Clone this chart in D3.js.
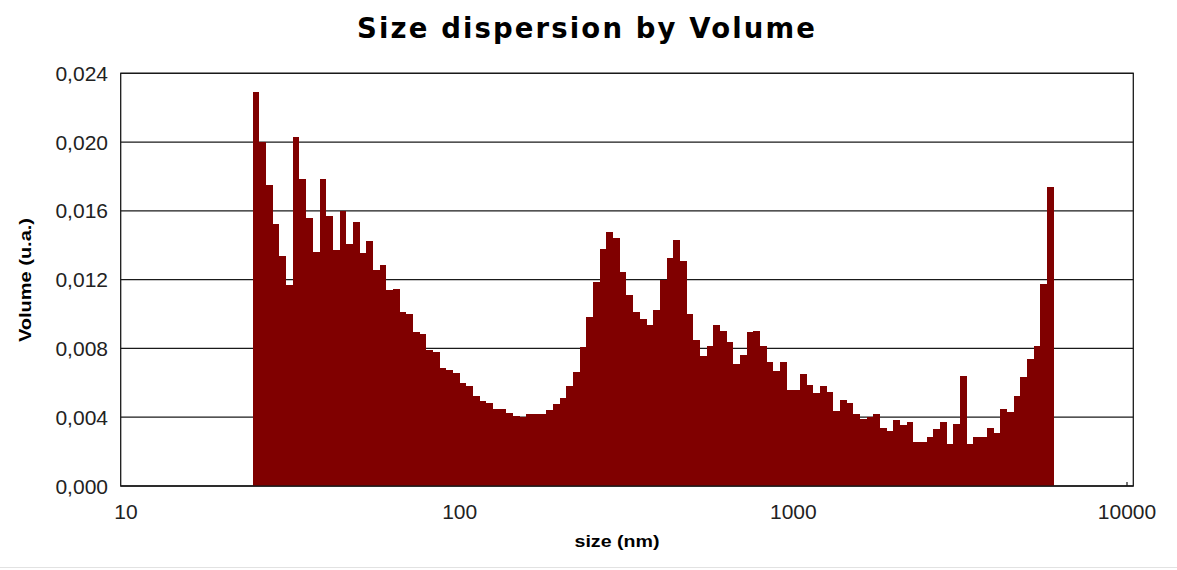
<!DOCTYPE html>
<html>
<head>
<meta charset="utf-8">
<script src="https://cdn.jsdelivr.net/npm/d3@7"></script>
<style>
  html, body { margin: 0; padding: 0; background: #fff; }
  svg { display: block; }
</style>
</head>
<body>
<svg id="chart" width="1177" height="570"></svg>
<script>
const titleText = "Size dispersion by Volume";
const xLabelText = "size (nm)";
const yLabelText = "Volume (u.a.)";
const xTicks = [10, 100, 1000, 10000];
const yTicks = [0, 0.004, 0.008, 0.012, 0.016, 0.020, 0.024];

// size class edges (nm), 121 edges for 120 classes
const sizeEdges = [
  23.99, 25.12, 26.30, 27.54, 28.84, 30.20, 31.62, 33.11, 34.67, 36.31,
  38.02, 39.81, 41.69, 43.65, 45.71, 47.86, 50.12, 52.48, 54.95, 57.54,
  60.26, 63.10, 66.07, 69.18, 72.44, 75.86, 79.43, 83.18, 87.10, 91.20,
  95.50, 100, 104.7, 109.6, 114.8, 120.2, 125.9, 131.8, 138.0, 144.5,
  151.4, 158.5, 166.0, 173.8, 182.0, 190.5, 199.5, 208.9, 218.8, 229.1,
  239.9, 251.2, 263.0, 275.4, 288.4, 302.0, 316.2, 331.1, 346.7, 363.1,
  380.2, 398.1, 416.9, 436.5, 457.1, 478.6, 501.2, 524.8, 549.5, 575.4,
  602.6, 631.0, 660.7, 691.8, 724.4, 758.6, 794.3, 831.8, 871.0, 912.0,
  955.0, 1000, 1047, 1096, 1148, 1202, 1259, 1318, 1380, 1445,
  1514, 1585, 1660, 1738, 1820, 1905, 1995, 2089, 2188, 2291,
  2399, 2512, 2630, 2754, 2884, 3020, 3162, 3311, 3467, 3631,
  3802, 3981, 4169, 4365, 4571, 4786, 5012, 5248, 5495, 5754,
  6026
];

// volume fraction per size class
const volume = [
  0.0229, 0.0200, 0.0175, 0.01525, 0.0134, 0.01167, 0.0203, 0.01786, 0.01558, 0.0136,
  0.01784, 0.01571, 0.01374, 0.01602, 0.01407, 0.01534, 0.01353, 0.01426, 0.01254, 0.01283,
  0.0114, 0.01145, 0.0101, 0.01002, 0.00896, 0.00886, 0.00788, 0.00778, 0.00687, 0.00677,
  0.00658, 0.0060, 0.0058, 0.00522, 0.00493, 0.00484, 0.00449, 0.00445, 0.00426, 0.00406,
  0.0040, 0.00416, 0.00416, 0.00416, 0.00441, 0.00474, 0.00513, 0.0058, 0.00664, 0.00807,
  0.00981, 0.01186, 0.0138, 0.01476, 0.01445, 0.01242, 0.01109, 0.01012, 0.00971, 0.00938,
  0.01026, 0.0120, 0.01325, 0.01432, 0.01306, 0.01002, 0.00851, 0.00755, 0.00817, 0.00935,
  0.00904, 0.00838, 0.0071, 0.00764, 0.00894, 0.00904, 0.00817, 0.0072, 0.00668, 0.0072,
  0.00557, 0.00557, 0.00654, 0.0059, 0.00538, 0.0058, 0.00546, 0.00439, 0.00503, 0.00484,
  0.00416, 0.00387, 0.00402, 0.00416, 0.0034, 0.00319, 0.00383, 0.00352, 0.00372, 0.00255,
  0.00255, 0.00284, 0.00329, 0.00372, 0.00242, 0.00362, 0.00642, 0.00242, 0.00284, 0.00284,
  0.00339, 0.0031, 0.00445, 0.0043, 0.00522, 0.00633, 0.00739, 0.00817, 0.01175, 0.01738
];

const svg = d3.select("#chart");
const frame = { left: 120.7, right: 1133.3, top: 73.3, bottom: 486 };

const x = d3.scaleLog().domain([10, 10000]).range([126, 1127]);
const y = d3.scaleLinear().domain([0, 0.024]).range([frame.bottom, frame.top]);

const tickFont = "'Liberation Sans', Arial, sans-serif";

// gridlines
svg.append("g").selectAll("line").data(yTicks).join("line")
  .attr("x1", frame.left).attr("x2", frame.right)
  .attr("y1", d => y(d)).attr("y2", d => y(d))
  .attr("stroke", "#1a1a1a").attr("stroke-width", 1.3);

// small decade ticks on bottom axis
svg.append("g").selectAll("line").data(xTicks.slice(1)).join("line")
  .attr("x1", d => x(d)).attr("x2", d => x(d))
  .attr("y1", frame.bottom).attr("y2", frame.bottom - 4)
  .attr("stroke", "#1a1a1a").attr("stroke-width", 1.2);

// bars (pixel-snapped so neighbouring classes join without seams)
const bins = volume.map((v, i) => ({ x0: sizeEdges[i], x1: sizeEdges[i + 1], v }));
svg.append("g").attr("shape-rendering", "crispEdges")
  .selectAll("rect").data(bins).join("rect")
  .attr("x", d => Math.round(x(d.x0)))
  .attr("width", d => Math.round(x(d.x1)) - Math.round(x(d.x0)))
  .attr("y", d => Math.round(y(d.v)))
  .attr("height", d => Math.round(y(0)) - Math.round(y(d.v)))
  .attr("fill", "#800000");

// frame
svg.append("rect")
  .attr("x", frame.left).attr("y", frame.top)
  .attr("width", frame.right - frame.left).attr("height", frame.bottom - frame.top)
  .attr("fill", "none").attr("stroke", "#1a1a1a").attr("stroke-width", 1.3);

// y tick labels
const fmt = d3.format(".3f");
svg.append("g").selectAll("text").data(yTicks).join("text")
  .attr("x", 108).attr("y", d => y(d) + 7.5)
  .attr("text-anchor", "end")
  .attr("font-family", tickFont).attr("font-size", 21)
  .attr("fill", "#222")
  .text(d => fmt(d).replace(".", ","));

// x tick labels
svg.append("g").selectAll("text").data(xTicks).join("text")
  .attr("x", d => x(d)).attr("y", 519)
  .attr("text-anchor", "middle")
  .attr("font-family", tickFont).attr("font-size", 21)
  .attr("fill", "#222")
  .text(d => String(d));

// title
svg.append("text")
  .attr("x", 586).attr("y", 38)
  .attr("text-anchor", "middle")
  .attr("font-family", "'DejaVu Sans', Verdana, sans-serif")
  .attr("font-weight", "bold").attr("font-size", 27.5)
  .attr("textLength", 458).attr("lengthAdjust", "spacing")
  .attr("fill", "#000")
  .text(titleText);

// x label
svg.append("text")
  .attr("x", 617).attr("y", 547)
  .attr("text-anchor", "middle")
  .attr("font-family", tickFont)
  .attr("font-weight", "bold").attr("font-size", 17)
  .attr("textLength", 85).attr("lengthAdjust", "spacingAndGlyphs")
  .attr("fill", "#000")
  .text(xLabelText);

// y label
svg.append("text")
  .attr("transform", "translate(31,280) rotate(-90)")
  .attr("text-anchor", "middle")
  .attr("font-family", tickFont)
  .attr("font-weight", "bold").attr("font-size", 16)
  .attr("textLength", 124).attr("lengthAdjust", "spacingAndGlyphs")
  .attr("fill", "#000")
  .text(yLabelText);

// bottom faint separator
svg.append("line")
  .attr("x1", 0).attr("x2", 1177).attr("y1", 567.5).attr("y2", 567.5)
  .attr("stroke", "#e2e2e2").attr("stroke-width", 1);
</script>
</body>
</html>
